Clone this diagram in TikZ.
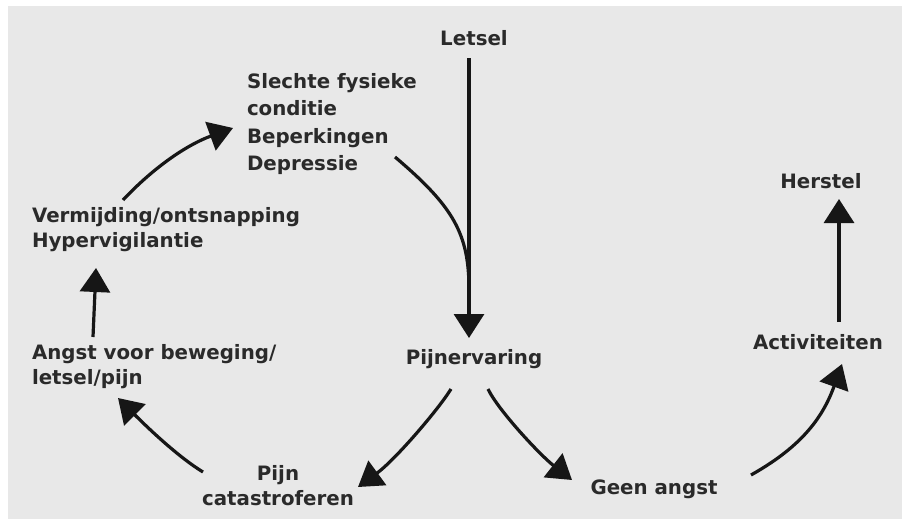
\documentclass[tikz,border=0pt]{standalone}
\usepackage{fontspec}
\setmainfont{DejaVu Sans}
\usetikzlibrary{arrows.meta,calc}
\definecolor{bg}{HTML}{E8E8E8}
\definecolor{ink}{HTML}{2A2A2A}
\definecolor{lin}{HTML}{161616}
\begin{document}
\begin{tikzpicture}[x=1pt,y=-1pt,
  lbl/.style={inner sep=0pt,outer sep=0pt,text=ink,font=\fontsize{19.8pt}{25pt}\selectfont\bfseries},
  arr/.style={draw=lin,line width=3.2pt,-{Triangle[length=24pt,width=30pt]}},
  ln/.style={draw=lin,line width=3.2pt}]
\useasboundingbox (0,0) rectangle (902,528);
\fill[white] (0,0) rectangle (902,528);
\fill[bg] (8,6) rectangle (902,519);
% nodes
\node[lbl,anchor=base] (letsel) at (474,45) {Letsel};
\node[lbl,anchor=base] (pijnerv) at (474,364) {Pijnervaring};
\node[lbl,anchor=north west,align=left,font=\fontsize{19.8pt}{27.6pt}\selectfont\bfseries] (slechte) at (247,73) {Slechte fysieke\\conditie\\Beperkingen\\Depressie};
\node[lbl,anchor=north west,align=left,font=\fontsize{19.8pt}{25.5pt}\selectfont\bfseries] (verm) at (32,207) {Vermijding/ontsnapping\\Hypervigilantie};
\node[lbl,anchor=north west,align=left] (angst) at (32,344) {Angst voor beweging/\\letsel/pijn};
\node[lbl,anchor=north,align=center] (catas) at (278,465) {Pijn\\catastroferen};
\node[lbl,anchor=base] (geen) at (654,494) {Geen angst};
\node[lbl,anchor=base] (activ) at (818,349) {Activiteiten};
\node[lbl,anchor=base] (herstel) at (821,188) {Herstel};
% connectors
\draw[arr] ($(letsel.base)+(-5,13)$) -- ($(pijnerv.base)+(-5,-26)$);
\draw[ln] ($(slechte.north west)+(148,84)$) .. controls ($(slechte.north west)+(207,134)$) and ($(pijnerv.base)+(-5,-130)$) .. ($(pijnerv.base)+(-5,-74)$);
\draw[arr] ($(verm.north west)+(91,-7)$) .. controls ($(verm.north west)+(124,-42)$) and ($(slechte.north west)+(-58,71)$) .. ($(slechte.north west)+(-14,55)$);
\draw[arr] ($(angst.north west)+(61,-7)$) -- ($(verm.north west)+(64,61)$);
\draw[arr] ($(catas.north)+(-75,7)$) .. controls ($(catas.north)+(-103,-10)$) and ($(angst.north west)+(108,76)$) .. ($(angst.north west)+(86,54)$);
\draw[arr] ($(pijnerv.base)+(-23,25)$) .. controls ($(pijnerv.base)+(-36,46)$) and ($(catas.north)+(117,-5)$) .. ($(catas.north)+(80,22)$);
\draw[arr] ($(pijnerv.base)+(14,25)$) .. controls ($(pijnerv.base)+(24,46)$) and ($(geen.base)+(-114,-39)$) .. ($(geen.base)+(-82,-14)$);
\draw[arr] ($(geen.base)+(97,-19)$) .. controls ($(geen.base)+(145,-46)$) and ($(activ.base)+(4,71)$) .. ($(activ.base)+(24,15)$);
\draw[arr] ($(activ.base)+(21,-27)$) -- ($(herstel.base)+(18,11)$);
\end{tikzpicture}
\end{document}
